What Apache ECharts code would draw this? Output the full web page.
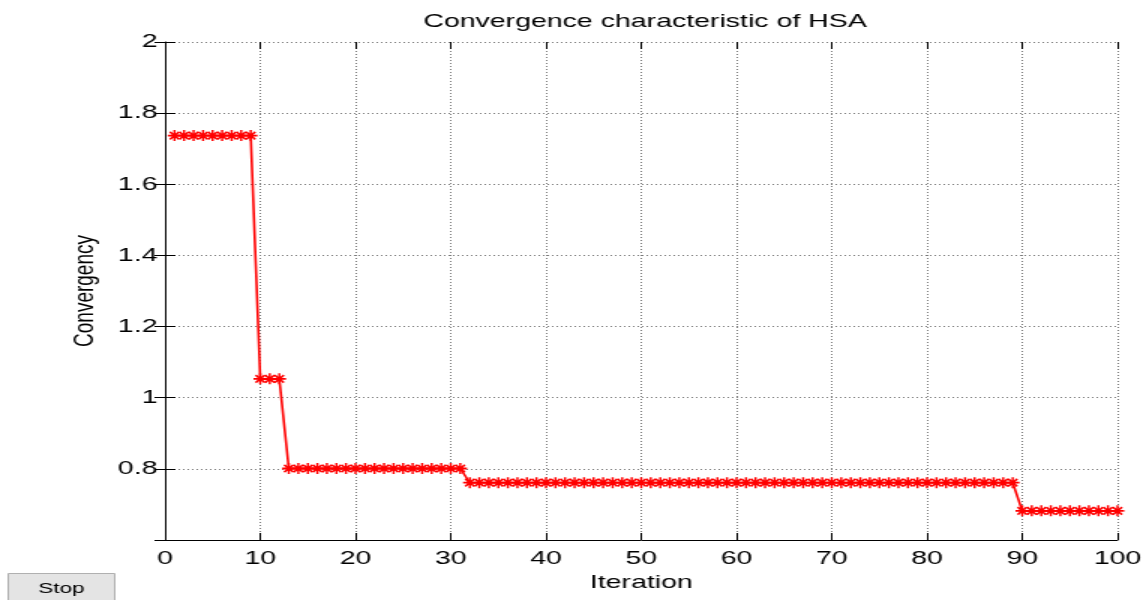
<!DOCTYPE html>
<html>
<head>
<meta charset="utf-8">
<script src="https://cdn.jsdelivr.net/npm/echarts@6/dist/echarts.min.js"></script>
<style>
html, body { margin: 0; padding: 0; background: #fff; overflow: hidden; }
/* 原图横向拉伸约1.5倍，这里按764宽绘制再横向放大 */
#main { width: 764px; height: 600px; transform: scaleX(1.5); transform-origin: 0 0; }
</style>
</head>
<body>
<div id="main"></div>
<script>
// 迭代次数 1..100
var iterations = [
  1, 2, 3, 4, 5, 6, 7, 8, 9, 10,
  11, 12, 13, 14, 15, 16, 17, 18, 19, 20,
  21, 22, 23, 24, 25, 26, 27, 28, 29, 30,
  31, 32, 33, 34, 35, 36, 37, 38, 39, 40,
  41, 42, 43, 44, 45, 46, 47, 48, 49, 50,
  51, 52, 53, 54, 55, 56, 57, 58, 59, 60,
  61, 62, 63, 64, 65, 66, 67, 68, 69, 70,
  71, 72, 73, 74, 75, 76, 77, 78, 79, 80,
  81, 82, 83, 84, 85, 86, 87, 88, 89, 90,
  91, 92, 93, 94, 95, 96, 97, 98, 99, 100
];
// 收敛值
var convergency = [
  1.737, 1.737, 1.737, 1.737, 1.737, 1.737, 1.737, 1.737, 1.737, 1.053,
  1.053, 1.053, 0.801, 0.801, 0.801, 0.801, 0.801, 0.801, 0.801, 0.801,
  0.801, 0.801, 0.801, 0.801, 0.801, 0.801, 0.801, 0.801, 0.801, 0.801,
  0.801, 0.761, 0.761, 0.761, 0.761, 0.761, 0.761, 0.761, 0.761, 0.761,
  0.761, 0.761, 0.761, 0.761, 0.761, 0.761, 0.761, 0.761, 0.761, 0.761,
  0.761, 0.761, 0.761, 0.761, 0.761, 0.761, 0.761, 0.761, 0.761, 0.761,
  0.761, 0.761, 0.761, 0.761, 0.761, 0.761, 0.761, 0.761, 0.761, 0.761,
  0.761, 0.761, 0.761, 0.761, 0.761, 0.761, 0.761, 0.761, 0.761, 0.761,
  0.761, 0.761, 0.761, 0.761, 0.761, 0.761, 0.761, 0.761, 0.761, 0.682,
  0.682, 0.682, 0.682, 0.682, 0.682, 0.682, 0.682, 0.682, 0.682, 0.682
];
var xTicks = [0, 10, 20, 30, 40, 50, 60, 70, 80, 90, 100];
var yTicks = [0.8, 1, 1.2, 1.4, 1.6, 1.8, 2];

var fontName = 'Liberation Sans, Arial, sans-serif';
var starPath = 'path://M0,5L10,5M5,0L5,10M1.6,1.6L8.4,8.4M8.4,1.6L1.6,8.4';

var seriesData = [];
for (var i = 0; i < iterations.length; i++) {
    seriesData.push([iterations[i], convergency[i]]);
}

var gridLine = { show: true, lineStyle: { color: '#7a7a7a', type: [1, 2], width: 1 } };
var tickStyle = { show: true, inside: true, length: 7, lineStyle: { color: '#000' } };

var option = {
    animation: false,
    backgroundColor: '#fff',
    title: {
        text: 'Convergence characteristic of HSA',
        left: 425, top: 7, textAlign: 'center',
        textStyle: { fontFamily: fontName, fontSize: 19, fontWeight: 'normal', color: '#000' }
    },
    grid: { left: 110, right: 19, top: 42, bottom: 60 },
    xAxis: [{
        type: 'value', min: 0, max: 100, interval: 10,
        name: 'Iteration', nameLocation: 'middle', nameGap: 33,
        nameTextStyle: { fontFamily: fontName, fontSize: 19, color: '#000', verticalAlign: 'top' },
        axisLine: { show: true, onZero: false, lineStyle: { color: '#000', width: 1 } },
        axisTick: tickStyle,
        axisLabel: { fontFamily: fontName, fontSize: 19, color: '#000', margin: 9,
            formatter: function (v) { return xTicks.indexOf(v) >= 0 ? String(v) : ''; } },
        splitLine: gridLine
    }, {
        type: 'value', min: 0, max: 100, interval: 10, position: 'top',
        axisLine: { show: false },
        axisTick: tickStyle,
        axisLabel: { show: false }, splitLine: { show: false }
    }],
    yAxis: [{
        type: 'value', min: 0.6, max: 2, interval: 0.2,
        name: 'Convergency', nameLocation: 'middle', nameGap: 44, nameRotate: 90,
        nameTextStyle: { fontFamily: fontName, fontSize: 19, color: '#000' },
        axisLine: { show: true, onZero: false, lineStyle: { color: '#000', width: 1 } },
        axisTick: tickStyle,
        axisLabel: { fontFamily: fontName, fontSize: 19, color: '#000', margin: 5, showMinLabel: false,
            formatter: function (v) {
                var r = Math.round(v * 10) / 10;
                return yTicks.indexOf(r) >= 0 ? String(r) : '';
            } },
        splitLine: gridLine
    }, {
        type: 'value', min: 0.6, max: 2, interval: 0.2, position: 'right',
        axisLine: { show: false },
        axisTick: tickStyle,
        axisLabel: { show: false }, splitLine: { show: false }
    }],
    graphic: [{
        type: 'group', left: 5, top: 573,
        children: [{
            type: 'rect', shape: { x: 0, y: 0, width: 71, height: 27 },
            style: { fill: '#e4e4e4', stroke: '#b0b0b0', lineWidth: 1 }
        }, {
            type: 'text', x: 35.5, y: 15,
            style: { text: 'Stop', fill: '#000', font: '15px ' + fontName, align: 'center', verticalAlign: 'middle' }
        }]
    }],
    series: [{
        type: 'line',
        data: seriesData,
        symbol: starPath,
        symbolSize: [9, 11],
        showAllSymbol: true,
        lineStyle: { color: '#ff0000', width: 1.6 },
        itemStyle: { color: 'none', borderColor: '#ff0000', borderWidth: 1.6 }
    }]
};

var chart = echarts.init(document.getElementById('main'));
chart.setOption(option);
</script>
</body>
</html>
